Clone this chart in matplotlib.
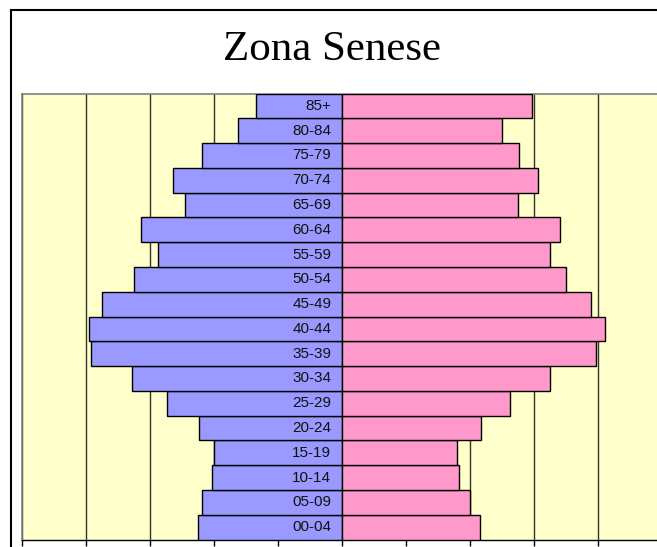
import matplotlib
matplotlib.use("Agg")
import matplotlib.pyplot as plt
from matplotlib.patches import Rectangle

ages = ["00-04", "05-09", "10-14", "15-19", "20-24", "25-29", "30-34", "35-39", "40-44",
        "45-49", "50-54", "55-59", "60-64", "65-69", "70-74", "75-79", "80-84", "85+"]
males = [2.25, 2.18, 2.02, 1.99, 2.22, 2.73, 3.28, 3.91, 3.94,
         3.75, 3.24, 2.87, 3.14, 2.45, 2.64, 2.18, 1.62, 1.34]
females = [2.16, 2.01, 1.83, 1.80, 2.18, 2.64, 3.25, 3.97, 4.11,
           3.90, 3.51, 3.25, 3.42, 2.75, 3.07, 2.77, 2.50, 2.98]
title = "Zona Senese"
xticks = [-5, -4, -3, -2, -1, 0, 1, 2, 3, 4, 5]

W, H = 657, 547
fig = plt.figure(figsize=(W / 100, H / 100), dpi=100)

# outer chart border (extends beyond the cropped image)
fig.patches.append(Rectangle((11 / W, -0.1), 1.2, (547 - 10) / H + 0.1,
                             transform=fig.transFigure, fill=False,
                             edgecolor="black", linewidth=1.5, zorder=0))

left, right, top, bottom = 21.5, 661.5, 93.5, 539.5
ax = fig.add_axes([left / W, (H - bottom) / H, (right - left) / W, (bottom - top) / H])
ax.set_facecolor("#FFFFCC")

y = list(range(len(ages)))
ax.barh(y, [-m for m in males], height=1.0, color="#9999FF", edgecolor="black",
        linewidth=1.0, zorder=3)
ax.barh(y, females, height=1.0, color="#FF99CC", edgecolor="black",
        linewidth=1.0, zorder=3)

for yi, lab in zip(y, ages):
    ax.text(-0.16, yi, lab, ha="right", va="center", fontsize=11,
            family="Liberation Sans", color="#111111", zorder=4)

ax.set_xlim(-5, 5)
ax.set_ylim(-0.5, len(ages) - 0.5)
ax.set_xticks(xticks)
ax.set_xticklabels([])
ax.set_yticks([])
ax.tick_params(axis="x", direction="out", length=4, width=1, color="black")
ax.xaxis.grid(True, color="#333333", linewidth=1.0, zorder=1)
ax.set_axisbelow(True)
for s in ["left", "top", "right"]:
    ax.spines[s].set_color("#808080")
    ax.spines[s].set_linewidth(1.2)
ax.spines["bottom"].set_color("black")
ax.spines["bottom"].set_linewidth(1.0)

fig.text(332 / W, 1 - 50 / H, title, ha="center", va="center",
         fontsize=31, family="Liberation Serif", color="black")

fig.savefig("out.png", dpi=100, facecolor="white")
